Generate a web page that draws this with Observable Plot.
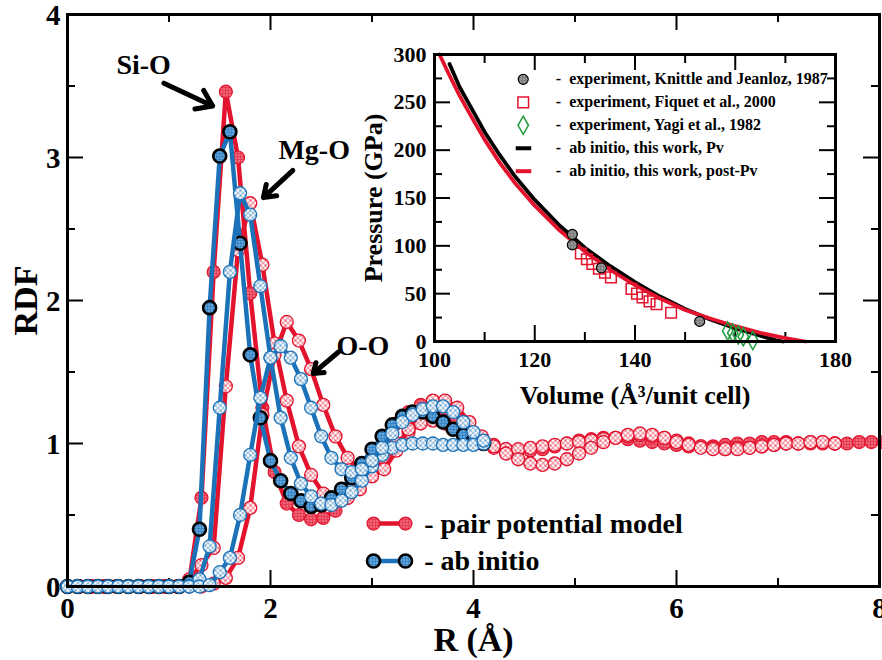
<!DOCTYPE html>
<html><head><meta charset="utf-8">
<script src="https://cdn.jsdelivr.net/npm/d3@7"></script>
<script src="https://cdn.jsdelivr.net/npm/@observablehq/plot@0.6"></script>
<style>
html,body{margin:0;padding:0;background:#fff;}
#wrap{position:relative;width:882px;height:660px;overflow:hidden;background:#fff;}
#wrap > svg{position:absolute;left:0;top:0;}
</style></head><body>
<svg width="0" height="0" style="position:absolute">
<defs>
<pattern id="dotRed" width="3" height="3" patternUnits="userSpaceOnUse"><rect width="3" height="3" fill="#e8344c"/><circle cx="1.5" cy="1.5" r="0.75" fill="#fbd0d5"/></pattern>
<pattern id="dotBlue" width="3" height="3" patternUnits="userSpaceOnUse"><rect width="3" height="3" fill="#2f82c6"/><circle cx="1.5" cy="1.5" r="0.75" fill="#cfe3f4"/></pattern>
<pattern id="dotGray" width="3" height="3" patternUnits="userSpaceOnUse"><rect width="3" height="3" fill="#777"/><circle cx="1.5" cy="1.5" r="0.75" fill="#ddd"/></pattern>
<pattern id="hatchRed" width="5" height="5" patternUnits="userSpaceOnUse"><rect width="5" height="5" fill="#fff"/><path d="M0,0L5,5M5,0L0,5" stroke="#e3122d" stroke-width="0.7"/></pattern>
<pattern id="hatchBlue" width="5" height="5" patternUnits="userSpaceOnUse"><rect width="5" height="5" fill="#fff"/><path d="M0,0L5,5M5,0L0,5" stroke="#1c72b8" stroke-width="0.7"/></pattern>
</defs></svg>
<div id="wrap"></div>
<script>
// ---------------- main chart data (RDF) ----------------
const rPair = [0,0.12,0.24,0.36,0.48,0.6,0.72,0.84,0.96,1.08,1.2,1.32,1.44,1.56,1.68,1.8,1.92,2.04,2.16,2.28,2.4,2.52,2.64,2.76,2.88,3.0,3.12,3.24,3.36,3.48,3.6,3.72,3.84,3.96,4.08,4.2,4.32,4.44,4.56,4.68,4.8,4.92,5.04,5.16,5.28,5.4,5.52,5.64,5.76,5.88,6.0,6.12,6.24,6.36,6.48,6.6,6.72,6.84,6.96,7.08,7.2,7.32,7.44,7.56,7.68,7.8,7.92,8.04];
const gSiO_pair = [0,0,0,0,0,0,0,0,0,0,
  0.04,0.62,2.2,3.46,3.0,2.05,1.25,0.8,0.58,0.5,
  0.47,0.48,0.53,0.62,0.76,0.9,1.03,1.14,1.22,1.27,
  1.28,1.24,1.17,1.1,1.04,0.99,0.96,0.95,0.95,0.96,
  0.98,1.0,1.02,1.03,1.04,1.04,1.03,1.02,1.01,1.0,
  0.99,0.98,0.98,0.98,0.99,1.0,1.0,1.01,1.01,1.01,
  1.0,1.0,1.0,1.0,1.0,1.01,1.01,1.01];
const gMgO_pair = [0,0,0,0,0,0,0,0,0,0,
  0.05,0.15,0.27,1.4,2.35,2.68,2.25,1.7,1.3,0.98,
  0.78,0.65,0.6,0.62,0.68,0.78,0.9,1.0,1.08,1.14,
  1.16,1.14,1.1,1.05,1.0,0.97,0.96,0.96,0.97,0.98,
  0.99,1.0,1.01,1.02,1.03,1.04,1.05,1.06,1.05,1.04,
  1.02,1.0,0.98,0.97,0.96,0.97,0.97,0.98,0.99,1.0,
  1.0,1.01,1.01,1.0];
const gOO_pair = [0,0,0,0,0,0,0,0,0,0,
  0,0,0.02,0.06,0.2,0.55,1.2,1.62,1.85,1.72,
  1.52,1.27,1.05,0.9,0.8,0.77,0.82,0.95,1.1,1.22,
  1.3,1.3,1.25,1.15,1.05,0.98,0.93,0.89,0.86,0.85,
  0.86,0.89,0.93,0.97,1.01,1.04,1.06,1.07,1.06,1.04,
  1.01,0.99,0.97,0.96,0.96,0.96,0.97,0.98,0.99,1.0,
  1.0,1.01,1.01,1.0];
const rAb = [0,0.1,0.2,0.3,0.4,0.5,0.6,0.7,0.8,0.9,1.0,1.1,1.2,1.3,1.4,1.5,1.6,1.7,1.8,1.9,2.0,2.1,2.2,2.3,2.4,2.5,2.6,2.7,2.8,2.9,3.0,3.1,3.2,3.3,3.4,3.5,3.6,3.7,3.8,3.9,4.0,4.1];
const gSiO_ab = [0,0,0,0,0,0,0,0,0,0,
  0,0,0.03,0.4,1.95,3.01,3.18,2.4,1.62,1.18,
  0.88,0.74,0.65,0.6,0.56,0.57,0.62,0.68,0.76,0.86,
  0.96,1.05,1.13,1.19,1.22,1.22,1.19,1.15,1.1,1.06,
  1.02,1.0];
const gMgO_ab = [0,0,0,0,0,0,0,0,0,0,
  0,0,0,0.05,0.28,1.25,2.2,2.75,2.6,2.1,
  1.6,1.18,0.9,0.72,0.63,0.58,0.57,0.6,0.66,0.74,
  0.84,0.92,0.97,0.99,1.0,1.0,1.0,0.99,0.99,0.99,
  0.99,1.0];
const gOO_ab = [0,0,0,0,0,0,0,0,0,0,
  0,0,0,0,0.01,0.1,0.2,0.5,0.92,1.32,
  1.6,1.68,1.6,1.45,1.25,1.05,0.9,0.82,0.8,0.82,
  0.88,0.97,1.07,1.15,1.2,1.24,1.26,1.26,1.22,1.15,
  1.08,1.02];
const xTicksMajor = [0,2,4,6,8], xTicksMinor = [1,3,5,7];
const yTicksMajor = [0,1,2,3,4], yTicksMinor = [0.5,1.5,2.5,3.5];
const legendLabels = ["- pair potential model", "- ab initio"];
const annotLabels = ["Si-O", "Mg-O", "O-O"];

// ---------------- inset data (EOS) ----------------
const knittleV = [127.5,127.5,133.3,152.9];
const knittleP = [112,101,77,21];
const fiquetV = [129.2,130.4,131.5,132.8,134.0,135.2,139.3,140.4,141.5,142.9,144.3,147.2];
const fiquetP = [92,86,81,76,72,67,55,50,46,42,39,30];
const yagiV = [158.5,159.5,160.6,161.6,163.5];
const yagiP = [11,9,7,5,1];
const pvV = [103,105,108,110,113,116,120,125,130,135,140,145,150,155,160,165,168,169.5];
const pvP = [290,266,238,219,195,173,148,121,98,79,62,47,34,23,14,6,1.5,0];
const postV = [101,103,105,108,110,113,116,120,125,130,135,140,145,150,155,160,165,170,174];
const postP = [300,278,257,229,211,187,166,142,116,94,75,59,45,33,24,16,9,3.5,0];
const vTicksMajor = [100,120,140,160,180], vTicksMinor = [110,130,150,170];
const pTicksMajor = [0,50,100,150,200,250,300], pTicksMinor = [25,75,125,175,225,275];
const insetLegend = ["experiment, Knittle and Jeanloz, 1987","experiment, Fiquet et al., 2000","experiment, Yagi et al., 1982","ab initio, this work, Pv","ab initio, this work, post-Pv"];

// ---------------- build ----------------
const RED = "#e3122d", BLUE = "#1c72b8", GREEN = "#1f9a3a";
const FONT = "'Liberation Serif','Times New Roman',serif";
const rows = (rs, gs) => gs.map((g, i) => ({r: rs[i], g}));
const series = [
  {data: rows(rPair, gSiO_pair), line: RED, fill: "url(#dotRed)", stroke: RED, sw: 1.2},
  {data: rows(rPair, gMgO_pair), line: RED, fill: "url(#hatchRed)", stroke: RED, sw: 1.3},
  {data: rows(rPair, gOO_pair), line: RED, fill: "url(#hatchRed)", stroke: RED, sw: 1.3},
  {data: rows(rAb, gSiO_ab), line: BLUE, fill: "url(#dotBlue)", stroke: "#000", sw: 2.6},
  {data: rows(rAb, gMgO_ab), line: BLUE, fill: "url(#hatchBlue)", stroke: BLUE, sw: 1.3},
  {data: rows(rAb, gOO_ab), line: BLUE, fill: "url(#hatchBlue)", stroke: BLUE, sw: 1.3}
];
const W = 882, H = 660, mL = 67, mR = 3, mT = 14, mB = 74;
const iW = W - mL - mR, iH = H - mT - mB;
const MAJ = 16, MIN = 8;

// annotation layout (data units)
const annots = [
  {t: annotLabels[0], tx: 0.75, ty: 3.65, x1: 0.95, y1: 3.52, x2: 1.43, y2: 3.36},
  {t: annotLabels[1], tx: 2.43, ty: 3.05, x1: 2.22, y1: 2.91, x2: 1.93, y2: 2.72},
  {t: annotLabels[2], tx: 2.91, ty: 1.685, x1: 2.67, y1: 1.64, x2: 2.42, y2: 1.49}
];
const leg = [
  {y: 0.44, line: RED, fill: "url(#dotRed)", stroke: RED, sw: 1.2, t: legendLabels[0]},
  {y: 0.178, line: BLUE, fill: "url(#dotBlue)", stroke: "#000", sw: 2.6, t: legendLabels[1]}
];
const legX1 = 3.015, legX2 = 3.33, legTx = 3.515;

const marks = [
  Plot.ruleX(xTicksMajor, {x: d => d, insetTop: iH - MAJ, strokeWidth: 2}),
  Plot.ruleX(xTicksMinor, {x: d => d, insetTop: iH - MIN, strokeWidth: 2}),
  Plot.ruleX(xTicksMajor, {x: d => d, insetBottom: iH - MAJ, strokeWidth: 2}),
  Plot.ruleX(xTicksMinor, {x: d => d, insetBottom: iH - MIN, strokeWidth: 2}),
  Plot.ruleY(yTicksMajor, {y: d => d, insetRight: iW - MAJ, strokeWidth: 2}),
  Plot.ruleY(yTicksMinor, {y: d => d, insetRight: iW - MIN, strokeWidth: 2}),
  Plot.ruleY(yTicksMajor, {y: d => d, insetLeft: iW - MAJ, strokeWidth: 2}),
  Plot.ruleY(yTicksMinor, {y: d => d, insetLeft: iW - MIN, strokeWidth: 2})
];
for (const s of series) {
  marks.push(Plot.line(s.data, {x: "r", y: "g", stroke: s.line, strokeWidth: 4.5}));
  marks.push(Plot.dot(s.data, {x: "r", y: "g", r: 6.5, fill: s.fill, stroke: s.stroke, strokeWidth: s.sw}));
}
for (const l of leg) {
  const pts = [{r: legX1, g: l.y}, {r: legX2, g: l.y}];
  marks.push(Plot.line(pts, {x: "r", y: "g", stroke: l.line, strokeWidth: 4.5}));
  marks.push(Plot.dot(pts, {x: "r", y: "g", r: 6.5, fill: l.fill, stroke: l.stroke, strokeWidth: l.sw}));
  marks.push(Plot.text([l.t], {x: () => legTx, y: () => l.y, text: d => d, textAnchor: "start", lineAnchor: "middle", fontSize: 28, fontWeight: "bold", fill: "#000"}));
}
marks.push(
  Plot.arrow(annots, {x1: "x1", y1: "y1", x2: "x2", y2: "y2", strokeWidth: 5, headLength: 11, headAngle: 70, stroke: "#000"}),
  Plot.text(annots, {x: "tx", y: "ty", text: "t", fontSize: 28, fontWeight: "bold", fill: "#000"}),
  Plot.text(yTicksMajor, {y: d => d, text: d => String(d), frameAnchor: "left", dx: -7, dy: 1, textAnchor: "end", lineAnchor: "middle", fontSize: 29, fontWeight: "bold", fill: "#000"}),
  Plot.text(xTicksMajor, {x: d => d, text: d => String(d), frameAnchor: "bottom", dy: 22, textAnchor: "middle", lineAnchor: "middle", fontSize: 29, fontWeight: "bold", fill: "#000"}),
  Plot.text(["RDF"], {frameAnchor: "left", dx: -41, rotate: -90, textAnchor: "middle", lineAnchor: "middle", fontSize: 34, fontWeight: "bold", fill: "#000"}),
  Plot.text(["R (Å)"], {frameAnchor: "bottom", dy: 54, textAnchor: "middle", lineAnchor: "middle", fontSize: 34, fontWeight: "bold", fill: "#000"}),
  Plot.frame({stroke: "#000", strokeWidth: 3})
);

const main = Plot.plot({
  width: W, height: H, marginLeft: mL, marginRight: mR, marginTop: mT, marginBottom: mB,
  x: {domain: [0, 8], axis: null}, y: {domain: [0, 4], axis: null},
  style: {fontFamily: FONT, background: "transparent"},
  marks
});

// ---------------- inset ----------------
const imL = 80, imR = 30, imT = 22, imB = 70, iiW = 401, iiH = 287;
const legP = [274, 250, 226, 202, 178];
const legMarkV = 117.7, legLineV1 = 116.3, legLineV2 = 119.4, legTextV = 124.2;
const imarks = [
  Plot.ruleX(vTicksMajor, {x: d => d, insetTop: iiH - MAJ, strokeWidth: 2}),
  Plot.ruleX(vTicksMinor, {x: d => d, insetTop: iiH - 9, strokeWidth: 2}),
  Plot.ruleX(vTicksMajor, {x: d => d, insetBottom: iiH - MAJ, strokeWidth: 2}),
  Plot.ruleX(vTicksMinor, {x: d => d, insetBottom: iiH - 9, strokeWidth: 2}),
  Plot.ruleY(pTicksMajor, {y: d => d, insetRight: iiW - MAJ, strokeWidth: 2}),
  Plot.ruleY(pTicksMinor, {y: d => d, insetRight: iiW - MIN, strokeWidth: 2}),
  Plot.ruleY(pTicksMajor, {y: d => d, insetLeft: iiW - MAJ, strokeWidth: 2}),
  Plot.ruleY(pTicksMinor, {y: d => d, insetLeft: iiW - MIN, strokeWidth: 2}),
  Plot.line(pvV.map((v, i) => ({v, p: pvP[i]})), {x: "v", y: "p", stroke: "#000", strokeWidth: 3.8}),
  Plot.line(postV.map((v, i) => ({v, p: postP[i]})), {x: "v", y: "p", stroke: RED, strokeWidth: 3.8}),
  Plot.dot(fiquetV.map((v, i) => ({v, p: fiquetP[i]})), {x: "v", y: "p", symbol: "square", r: 6, stroke: RED, strokeWidth: 1.5, fill: "none"}),
  Plot.dot(yagiV.map((v, i) => ({v, p: yagiP[i]})), {x: "v", y: "p", symbol: "diamond", r: 5.5, stroke: GREEN, strokeWidth: 1.5, fill: "none"}),
  Plot.dot(knittleV.map((v, i) => ({v, p: knittleP[i]})), {x: "v", y: "p", r: 5, fill: "url(#dotGray)", stroke: "#000", strokeWidth: 1.2}),
  // legend
  Plot.dot([legP[0]], {x: () => legMarkV, y: d => d, r: 5, fill: "url(#dotGray)", stroke: "#000", strokeWidth: 1.2}),
  Plot.dot([legP[1]], {x: () => legMarkV, y: d => d, symbol: "square", r: 6, stroke: RED, strokeWidth: 1.5, fill: "none"}),
  Plot.dot([legP[2]], {x: () => legMarkV, y: d => d, symbol: "diamond", r: 5.5, stroke: GREEN, strokeWidth: 1.5, fill: "none"}),
  Plot.ruleY([legP[3]], {y: d => d, x1: legLineV1, x2: legLineV2, stroke: "#000", strokeWidth: 4}),
  Plot.ruleY([legP[4]], {y: d => d, x1: legLineV1, x2: legLineV2, stroke: RED, strokeWidth: 4}),
  Plot.text(insetLegend, {x: () => legTextV, y: (d, i) => legP[i], text: d => "-\u00a0\u00a0" + d, textAnchor: "start", lineAnchor: "middle", fontSize: 16, fontWeight: "bold", fill: "#000"}),
  // tick labels & titles
  Plot.text(pTicksMajor, {y: d => d, text: d => String(d), frameAnchor: "left", dx: -8, textAnchor: "end", lineAnchor: "middle", fontSize: 22, fontWeight: "bold", fill: "#000"}),
  Plot.text(vTicksMajor, {x: d => d, text: d => String(d), frameAnchor: "bottom", dy: 18, textAnchor: "middle", lineAnchor: "middle", fontSize: 22, fontWeight: "bold", fill: "#000"}),
  Plot.text(["Pressure (GPa)"], {frameAnchor: "left", dx: -61, rotate: -90, textAnchor: "middle", lineAnchor: "middle", fontSize: 26, fontWeight: "bold", fill: "#000"}),
  Plot.text(["Volume (Å³/unit cell)"], {frameAnchor: "bottom", dy: 54, textAnchor: "middle", lineAnchor: "middle", fontSize: 26, fontWeight: "bold", fill: "#000"}),
  Plot.frame({stroke: "#000", strokeWidth: 3})
];
const inset = Plot.plot({
  width: imL + iiW + imR, height: imT + iiH + imB,
  marginLeft: imL, marginRight: imR, marginTop: imT, marginBottom: imB,
  x: {domain: [100, 180], axis: null}, y: {domain: [0, 300], axis: null},
  style: {fontFamily: FONT, background: "transparent"},
  marks: imarks
});
const wrap = document.getElementById("wrap");
wrap.appendChild(main);
wrap.appendChild(inset);
inset.style.left = (434 - imL) + "px";
inset.style.top = (54 - imT) + "px";
</script>
</body></html>
